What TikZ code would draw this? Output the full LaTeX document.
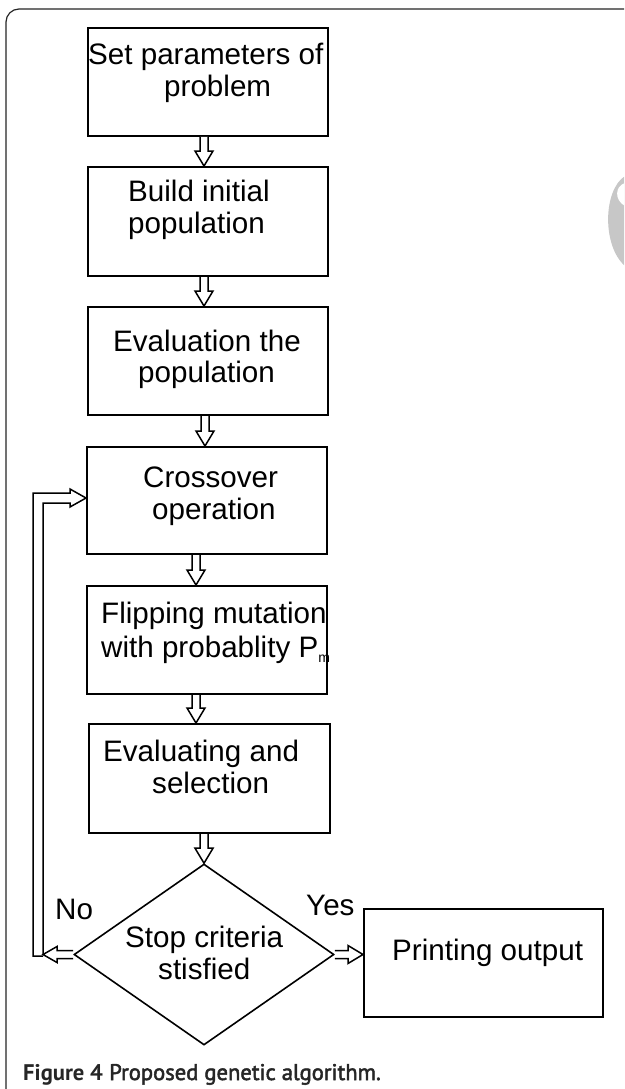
\documentclass[tikz,border=0pt]{standalone}
\usepackage{fontspec}
\setmainfont{Liberation Sans}
\newfontfamily\capbold{PT Sans}
\newfontfamily\capsemi[FakeBold=2.2]{PT Sans}
\usetikzlibrary{calc,shapes.geometric}
\newcommand\darr[2]{\draw[arr] let \p1=#1, \p2=#2 in
  (\x1-4pt,\y1) -- (\x1-4pt,\y2+15pt) -- (\x1-9pt,\y2+15pt) -- (\x1,\y2)
  -- (\x1+9pt,\y2+15pt) -- (\x1+4pt,\y2+15pt) -- (\x1+4pt,\y1);}
\newcommand\rarr[2]{\draw[arr] let \p1=#1, \p2=#2 in
  (\x1,\y1+4pt) -- (\x2-15pt,\y1+4pt) -- (\x2-15pt,\y1+9pt) -- (\x2,\y1)
  -- (\x2-15pt,\y1-9pt) -- (\x2-15pt,\y1-4pt) -- (\x1,\y1-4pt);}
\newcommand\larr[2]{\draw[arr] let \p1=#1, \p2=#2 in
  (\x1,\y1+4pt) -- (\x2+14pt,\y1+4pt) -- (\x2+14pt,\y1+8pt) -- (\x2,\y1)
  -- (\x2+14pt,\y1-8pt) -- (\x2+14pt,\y1-4pt) -- (\x1,\y1-4pt);}
\begin{document}
\begin{tikzpicture}[x=1pt,y=-1pt,
  box/.style={draw=black, line width=2pt, rectangle, inner sep=0pt},
  dia/.style={draw=black, line width=1.6pt, diamond, inner sep=0pt},
  lbl/.style={anchor=base west, inner sep=0pt, text=black, font=\fontsize{29.6}{34}\selectfont},
  arr/.style={draw=black, line width=1.5pt, line join=miter, fill=white}]
\useasboundingbox (0,0) rectangle (624,1089);
\clip (0,0) rectangle (624,1089);
\fill[white] (0,0) rectangle (624,1089);
% frame
\draw[line width=1.2pt, rounded corners=13pt, black!85] (6,1130) -- (6,9) -- (660,9);
% watermark fragment
\fill[black!22] (625,176) .. controls (603,190) and (602,246) .. (625,266) -- cycle;
\fill[white] (625,183) .. controls (615,186) and (614,200) .. (625,206) -- cycle;
% boxes
\node[box, minimum width=240, minimum height=108] (b1) at (208,82) {};
\node[box, minimum width=240, minimum height=109] (b2) at (208,221.5) {};
\node[box, minimum width=240, minimum height=108] (b3) at (208,361) {};
\node[box, minimum width=240, minimum height=107] (b4) at (207,500.5) {};
\node[box, minimum width=240, minimum height=108] (b5) at (207,640) {};
\node[box, minimum width=241, minimum height=109] (b6) at (209.5,778.5) {};
\node[dia, minimum width=260, minimum height=181] (d) at (204,954.5) {};
\node[box, minimum width=239, minimum height=108] (b7) at (483.5,963) {};
\coordinate (noTip) at (43,954.5);
% texts
\node[lbl] (t1a) at (88,65) {Set parameters of};
\node[lbl] (t1b) at (164,97) {problem};
\node[lbl] (t2a) at (128,201) {Build initial};
\node[lbl] (t2b) at (128,233) {population};
\node[lbl] (t3a) at (113,351) {Evaluation the};
\node[lbl] (t3b) at (138,382) {population};
\node[lbl] (t4a) at (143,487) {Crossover};
\node[lbl] (t4b) at (152,519) {operation};
\node[lbl] (t5a) at (101,623) {Flipping mutation};
\node[lbl] (t5b) at (101,657) {with probablity P\raisebox{-5pt}{\fontsize{14}{14}\selectfont m}};
\node[lbl] (t6a) at (103,761) {Evaluating and};
\node[lbl] (t6b) at (152,793) {selection};
\node[lbl] (tda) at (125,947) {Stop criteria};
\node[lbl] (tdb) at (158,979) {stisfied};
\node[lbl] (no) at (55,919) {No};
\node[lbl] (yes) at (306,915) {Yes};
\node[lbl] (t7) at (392,960) {Printing output};
% arrows
\darr{($(b1.south)+(-4,0)$)}{(b2.north)}
\darr{($(b2.south)+(-4,0)$)}{(b3.north)}
\darr{($(b3.south)+(-3,0)$)}{(b4.north)}
\darr{($(b4.south)+(-11,0)$)}{(b5.north)}
\darr{($(b5.south)+(-11,0)$)}{(b6.north)}
\darr{(b6.south -| d.north)}{(d.north)}
\rarr{(d.east)}{(b7.west |- d.east)}
\larr{(d.west)}{(noTip)}
\draw[arr, fill=none] let \p1=(noTip), \p2=($(b4.west)+(0,-2.5)$) in
  (\x1,\y1) -- (\x1,\y2-5pt) -- (\x2-16pt,\y2-5pt) -- (\x2-16pt,\y2-9pt) -- (\x2,\y2)
  -- (\x2-16pt,\y2+9pt) -- (\x2-16pt,\y2+5pt) -- (\x1-10pt,\y2+5pt) -- (\x1-10pt,\y1-1.5pt)
  -- (\x1,\y1-1.5pt);
% caption
\node[anchor=base west, inner sep=0pt, text=black!85, font=\fontsize{22.6}{25}\selectfont] (cap) at (23,1080)
  {{\capbold\bfseries Figure 4} {\capsemi Proposed genetic algorithm.}};
\end{tikzpicture}
\end{document}
